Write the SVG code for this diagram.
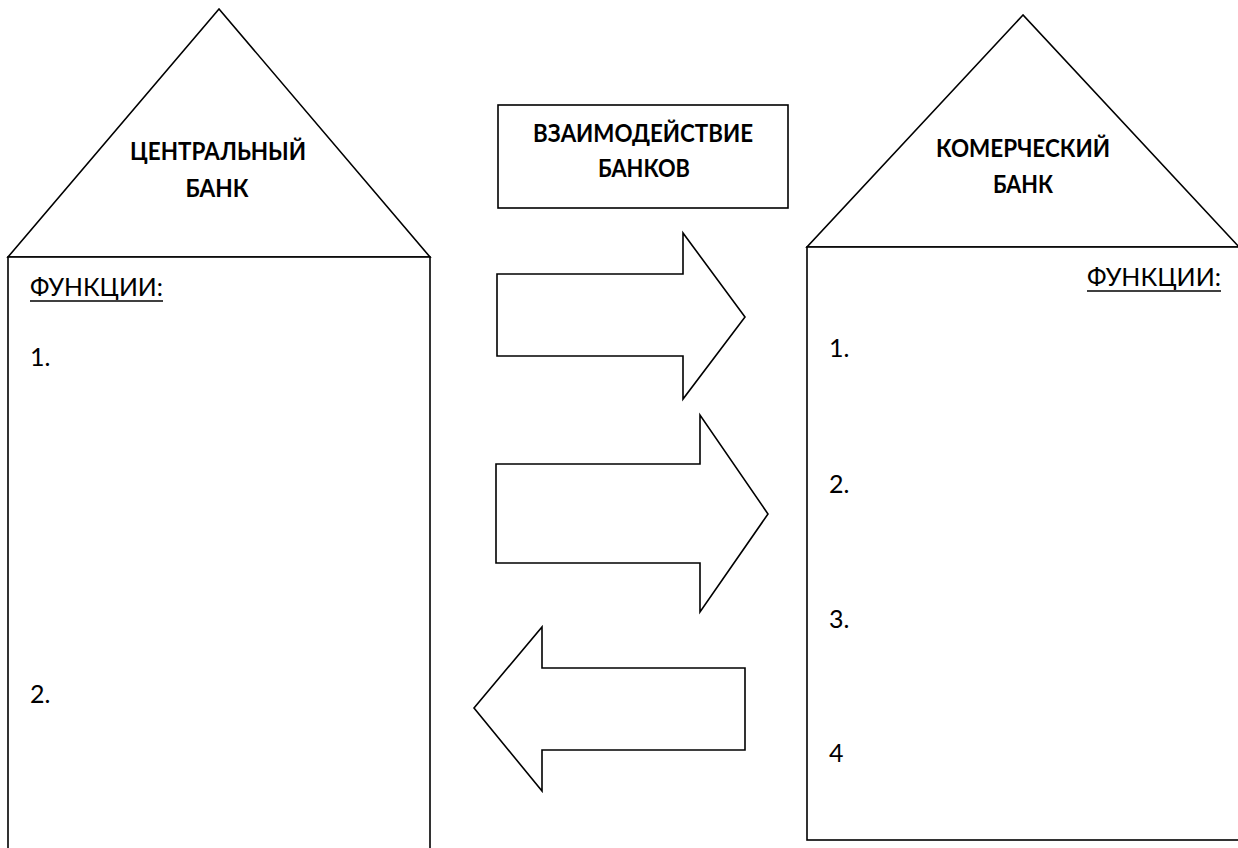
<svg xmlns="http://www.w3.org/2000/svg" width="1238" height="848" viewBox="0 0 1238 848">
<style>
.shape{fill:#fff;stroke:#000;stroke-width:1.6;stroke-linejoin:miter}
.title{font-family:Lato,"Open Sans","Liberation Sans",sans-serif;font-weight:bold;font-size:24px;fill:#000}
.body{font-family:Lato,"Open Sans","Liberation Sans",sans-serif;font-size:25px;fill:#000}
.ul{stroke:#000;stroke-width:1.6}
</style>
<rect width="1238" height="848" fill="#fff"/>
<g id="central-bank">
<polygon class="shape" points="219,9 8,257 430,257"/>
<rect class="shape" x="8" y="257" width="422" height="600"/>
<text class="title" x="218" y="160" text-anchor="middle" textLength="176" lengthAdjust="spacingAndGlyphs">ЦЕНТРАЛЬНЫЙ</text>
<text class="title" x="217" y="197" text-anchor="middle" textLength="63" lengthAdjust="spacingAndGlyphs">БАНК</text>
<text class="body" x="30" y="296" textLength="133" lengthAdjust="spacingAndGlyphs">ФУНКЦИИ:</text>
<line class="ul" x1="30" y1="301" x2="163" y2="301"/>
<text class="body" x="30" y="366">1.</text>
<text class="body" x="30" y="703">2.</text>
</g>
<g id="commercial-bank">
<polygon class="shape" points="1023,15 807,247 1239,247"/>
<rect class="shape" x="807" y="247" width="440" height="593"/>
<text class="title" x="1023" y="157" text-anchor="middle" textLength="174" lengthAdjust="spacingAndGlyphs">КОМЕРЧЕСКИЙ</text>
<text class="title" x="1023" y="193" text-anchor="middle" textLength="60" lengthAdjust="spacingAndGlyphs">БАНК</text>
<text class="body" x="1087" y="286" textLength="134" lengthAdjust="spacingAndGlyphs">ФУНКЦИИ:</text>
<line class="ul" x1="1087" y1="291" x2="1221" y2="291"/>
<text class="body" x="829" y="357">1.</text>
<text class="body" x="829" y="493">2.</text>
<text class="body" x="829" y="628">3.</text>
<text class="body" x="829" y="762">4</text>
</g>
<g id="interaction">
<rect class="shape" x="498" y="105" width="290" height="103"/>
<text class="title" x="643" y="142" text-anchor="middle" textLength="220" lengthAdjust="spacingAndGlyphs">ВЗАИМОДЕЙСТВИЕ</text>
<text class="title" x="644" y="177" text-anchor="middle" textLength="92" lengthAdjust="spacingAndGlyphs">БАНКОВ</text>
</g>
<g id="connectors">
<polygon class="shape" points="497,274 683,274 683,233 745,317 683,399 683,356 497,356"/>
<polygon class="shape" points="496,464 700,464 700,415 768,514 700,612 700,563 496,563"/>
<polygon class="shape" points="745,668 542,668 542,627 474,708 542,791 542,750 745,750"/>
</g>
</svg>
